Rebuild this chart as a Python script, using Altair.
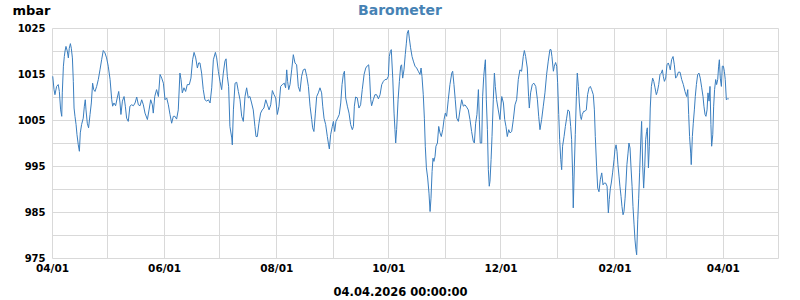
import altair as alt
import pandas as pd

# Days since 2025-04-01 and pressure (mbar)
days_spring = [0.4,1.1,1.6,2.5,3.4,4.0,4.7,5.3,5.6,6.2,
    6.7,7.1,7.6,8.3,8.9,9.4,10.0,10.5,11.1,11.6,
    12.0,12.5,13.1,13.6,14.3,14.9,15.4,16.1,17.0,17.6,
    18.1,18.5,19.2,19.9,20.7,21.4,22.1,22.7,23.4,24.3,
    25.2,26.1,27.0,27.9,28.8,29.7,30.6,31.6,32.5,33.0,
    33.7,34.6,35.5,36.3,37.0,37.5,38.3,39.2,39.9,40.6,
    41.5,42.4,43.3,44.3,45.2,46.1,47.0,47.9,48.8,49.7,
    50.6,51.9,52.8,53.7,54.6,55.1,55.9,56.9,57.9,58.8,
    59.7,60.6,61.5,62.4,63.3,64.2,65.1,66.0,66.9,67.8,
    68.7,69.6,70.2,70.9,71.8,72.7,73.6,74.7,75.6,76.5,
    77.3,78.2,79.1,79.8,80.5,81.4,82.3,83.2,84.2,85.1,
    86.0,86.9,87.8,88.9,89.6,90.5,91.4,92.3,93.2,94.1,
    94.7,95.4,96.1,96.8,97.8,98.1,98.7,99.6,100.5,101.4,
    102.3,103.2,104.1,105.0,105.9,106.8,107.7,108.6,109.5,110.4,
    111.0,111.7,112.6,113.5,114.4,115.3,116.3,117.2,118.1,119.0,
    119.9,120.8,121.7,122.6,123.5,124.4,125.3,126.4,127.1,127.7,
    128.2,128.8,129.5,130.4,131.3,132.2,133.1,134.0,134.9]
mbar_spring = [1014.5,1011.6,1010.5,1012.3,1012.7,1011.2,1007.2,1005.8,1010.9,1016.7,
    1018.8,1020.0,1021.0,1020.0,1018.5,1020.6,1021.6,1020.6,1018.5,1013.4,
    1007.6,1005.8,1004.0,1001.8,999.6,998.2,1002.2,1004.0,1005.4,1008.0,
    1009.4,1007.2,1004.3,1003.3,1006.2,1008.7,1013.0,1011.6,1011.2,1012.3,
    1013.8,1015.9,1018.1,1020.1,1019.6,1018.5,1016.7,1013.8,1009.4,1008.0,
    1008.7,1008.1,1009.8,1011.2,1008.7,1006.2,1009.1,1010.1,1008.0,1005.4,
    1004.7,1008.0,1008.3,1008.1,1008.7,1010.0,1008.3,1008.1,1009.4,1008.3,
    1006.5,1005.1,1007.2,1009.4,1008.3,1006.5,1010.1,1011.6,1010.1,1014.9,
    1014.1,1013.0,1009.4,1009.8,1008.3,1006.2,1004.3,1005.8,1005.8,1005.2,
    1007.2,1015.2,1013.8,1010.9,1012.0,1011.2,1012.7,1012.7,1014.1,1018.1,
    1019.7,1018.5,1016.3,1017.4,1017.4,1015.2,1011.6,1009.4,1009.1,1009.4,
    1008.7,1012.0,1018.1,1019.7,1018.5,1015.6,1013.4,1011.6,1015.2,1017.8,
    1018.3,1014.5,1012.3,1003.6,1001.1,999.6,1007.2,1013.0,1013.2,1011.2,
    1009.4,1005.8,1004.7,1010.1,1012.0,1009.8,1010.1,1008.7,1007.2,1003.6,
    1001.4,1001.4,1004.3,1006.5,1007.2,1007.6,1009.4,1008.3,1007.2,1008.3,
    1011.4,1010.5,1009.8,1006.2,1008.0,1012.3,1012.7,1013.0,1012.0,1015.9,
    1013.4,1011.6,1012.7,1015.9,1019.2,1017.4,1017.0,1012.3,1011.2]

days_autumn = [135.8,136.7,137.7,138.6,139.5,140.4,141.3,141.8,142.5,143.3,
    144.0,144.9,145.8,146.7,147.3,148.0,148.9,149.8,150.5,150.9,
    151.6,152.5,153.1,153.8,154.5,155.4,156.3,157.1,157.8,158.5,
    159.1,159.8,160.7,161.6,162.5,163.4,164.0,164.5,165.2,166.1,
    167.0,167.9,168.8,169.8,170.7,171.6,172.3,172.8,173.4,173.9,
    174.8,175.7,176.6,177.6,178.5,179.4,180.3,181.2,182.1,183.0,
    183.5,184.1,184.6,185.4,186.1,186.6,187.0,187.5,188.3,189.0,
    189.7,190.2,190.8,191.5,192.2,192.8,193.3,193.9,194.4,195.1,
    195.9,196.6,197.5,198.4,199.3,200.2,200.8,201.3,202.0,202.6,
    203.1,203.7,204.4,205.1,205.7,206.2,206.8,207.3,207.8,208.4,
    208.9,209.7,210.4,211.1,211.8,212.6,213.3,214.0,214.7,215.6,
    216.5,217.5,218.0,218.7,219.4,220.2,221.1,222.0,222.9,223.8,
    224.7,225.6,226.5,227.4,228.3,229.2,229.8,230.5,231.2,232.0,
    232.5,233.0,233.8,234.3,234.9,235.4,235.8,236.3,236.9,237.4,
    237.9,238.3,238.9,239.4,240.1,240.7,241.2,241.9,242.8,243.7,
    244.7,245.6,246.3,247.0,247.7,248.5,249.2,250.1,251.0,251.9,
    252.8,253.7,254.6,255.5,256.4,257.0,257.7,258.6,259.3,259.7,
    260.4,261.3,262.2,263.2,264.1,264.8,265.5,266.4,267.3,268.2,
    269.1,270.0,270.9]
mbar_autumn = [1014.5,1015.9,1016.1,1014.5,1012.3,1008.0,1005.1,1003.3,1002.5,1006.5,
    1010.1,1010.9,1012.0,1010.9,1008.0,1005.4,1004.0,1001.4,999.6,998.7,
    1001.8,1003.6,1004.7,1002.5,1004.7,1005.4,1006.2,1008.7,1012.7,1014.9,
    1015.6,1009.8,1008.0,1006.5,1004.0,1002.9,1003.6,1008.0,1010.0,1009.8,
    1007.6,1008.3,1011.6,1014.9,1016.3,1016.8,1017.0,1014.5,1009.4,1008.1,
    1009.4,1010.5,1010.5,1009.6,1010.5,1012.7,1013.4,1013.8,1013.8,1014.5,
    1018.8,1019.9,1020.3,1014.1,1006.5,1002.9,1000.0,1002.9,1009.4,1013.4,
    1016.7,1017.0,1014.1,1015.9,1019.2,1021.7,1023.9,1024.5,1022.8,1020.7,
    1018.8,1017.8,1016.7,1016.3,1015.6,1014.9,1016.3,1014.5,1010.5,1005.4,
    999.3,994.6,992.4,989.1,985.1,988.0,993.8,996.7,996.0,997.1,
    999.3,1000.0,1003.6,1002.2,1001.4,1002.9,1005.1,1006.5,1005.8,1009.4,
    1012.7,1015.2,1015.6,1012.7,1009.4,1005.4,1004.7,1007.2,1009.4,1008.0,
    1008.3,1007.8,1007.2,1005.1,1002.5,1000.4,1000.0,1004.3,1006.2,1011.6,
    1005.1,1000.0,1000.0,1010.1,1014.5,1016.7,1018.1,1009.4,1002.9,994.2,
    990.6,991.7,996.4,1001.4,1009.4,1015.2,1012.3,1009.4,1007.2,1005.1,
    1010.1,1008.7,1005.1,1003.6,1001.4,1002.9,1002.2,1002.5,1005.1,1008.3,
    1009.4,1013.8,1015.9,1015.6,1018.8,1020.1,1018.8,1016.3,1010.1,1007.6,
    1010.9,1012.7,1013.0,1012.3,1009.4,1005.8,1002.9,1005.1,1008.0,1010.9,
    1014.9,1017.8,1020.3]

days_winter = [271.5,272.0,272.8,273.3,274.0,274.6,275.1,275.7,276.2,276.8,
    277.3,277.8,278.6,279.3,280.0,280.7,281.5,282.2,282.7,283.3,
    283.6,284.2,284.7,285.3,285.8,286.4,286.9,287.5,288.0,288.5,
    289.3,290.0,290.7,291.4,292.2,292.9,293.6,294.5,295.1,295.6,
    296.3,296.9,297.6,298.3,299.1,299.8,300.5,301.2,302.0,302.7,
    303.2,303.8,304.3,305.0,305.8,306.3,306.9,307.4,307.9,308.5,
    309.0,309.6,310.1,310.7,311.2,311.8,312.3,312.8,313.4,313.9,
    314.5,315.0,315.6,316.1,316.7,317.2,317.7,318.1,318.7,319.2,
    319.7,320.3,320.8,321.4,321.9,322.5,323.0,323.5,323.9,324.5,
    325.0,325.5,326.1,326.8,327.4,328.1,328.8,329.4,330.1,330.8,
    331.5,332.1,332.6,333.2,333.9,334.6,335.3,335.9,336.4,337.1,
    337.9,338.6,339.3,340.0,340.8,341.7,342.6,343.5,344.4,345.3,
    345.9,346.4,346.9,347.5,347.8,348.4,348.9,349.5,350.0,350.6,
    351.3,352.0,352.7,353.5,354.2,354.7,355.3,355.8,356.4,356.9,
    357.5,358.0,358.5,358.9,359.5,360.0,360.5,361.1,361.6,362.2,
    362.7,363.1,363.6,364.2,364.7,365.3,365.8,366.3,366.9,367.4,
    368.2]
mbar_winter = [1020.3,1018.8,1015.6,1016.7,1017.5,1016.7,1013.1,1006.2,1000.8,996.4,
    994.2,999.3,1001.4,1003.6,1005.4,1007.2,1006.9,1003.6,1000.8,992.8,
    985.9,994.9,1001.8,1010.1,1015.2,1012.3,1008.7,1005.8,1005.1,1006.2,
    1006.9,1006.9,1007.2,1010.5,1012.0,1012.3,1011.6,1010.5,1007.2,1001.4,
    994.9,990.2,989.4,992.0,993.5,990.9,991.3,991.3,990.6,984.8,
    987.7,990.2,991.3,993.5,996.4,998.6,999.6,998.2,995.3,992.8,
    990.6,988.4,986.2,984.4,985.1,988.0,991.3,995.3,997.8,1000.0,
    998.9,994.9,990.6,986.2,982.2,978.9,976.8,975.7,983.3,988.0,
    993.5,1000.0,1004.7,994.9,990.2,994.9,1000.7,1002.5,1003.3,994.6,
    999.3,1007.6,1012.3,1014.1,1013.4,1012.0,1010.5,1011.2,1012.7,1014.9,
    1015.2,1015.9,1014.5,1013.4,1014.1,1017.0,1017.4,1016.7,1015.9,1018.1,
    1018.8,1017.0,1014.1,1014.5,1015.4,1015.4,1013.8,1012.7,1011.2,1010.1,
    1011.6,1006.2,1001.4,997.8,995.3,1001.4,1004.3,1007.2,1010.1,1012.7,
    1014.9,1015.2,1014.1,1012.0,1010.1,1008.0,1006.2,1005.8,1007.2,1010.9,
    1009.1,1012.3,1004.0,999.3,1001.8,1008.0,1011.6,1013.8,1012.7,1013.8,
    1016.7,1018.1,1014.1,1012.3,1016.7,1016.7,1015.6,1013.8,1009.4,1009.6,
    1009.6]

y_ticks = [975, 980, 985, 990, 995, 1000, 1005, 1010, 1015, 1020, 1025]

days = days_spring + days_autumn + days_winter
mbar = mbar_spring + mbar_autumn + mbar_winter

start = pd.Timestamp("2025-04-01")
df = pd.DataFrame({
    "time": [start + pd.Timedelta(days=d) for d in days],
    "mbar": mbar,
})

month_ticks = [alt.DateTime(year=2025 + (3 + i) // 12, month=(3 + i) % 12 + 1, date=1)
               for i in range(14)]

FONT = "DejaVu Sans"
GRID = "#d9d9d9"

chart = alt.Chart(df).mark_line(color="#3a7ebf", strokeWidth=1).encode(
    x=alt.X(
        "time:T",
        scale=alt.Scale(domain=[alt.DateTime(year=2025, month=4, date=1),
                                alt.DateTime(year=2026, month=5, date=1)]),
        axis=alt.Axis(
            values=month_ticks, format="%m/%d",
            labelExpr="month(datum.value) % 2 == 1 ? datum.label : ''",
            grid=True, gridColor=GRID, gridWidth=1, ticks=False, domain=False,
            labelFlush=False, labelOverlap=False, labelPadding=5,
            labelFont=FONT, labelFontSize=10.5, labelFontWeight="bold", labelColor="black",
            title="04.04.2026 00:00:00", titleX=348, titleY=34,
            titleAlign="center", titleBaseline="middle",
            titleFont=FONT, titleFontSize=11.5, titleFontWeight="bold", titleColor="black",
        ),
    ),
    y=alt.Y(
        "mbar:Q",
        scale=alt.Scale(domain=[975, 1025], nice=False, zero=False),
        axis=alt.Axis(
            values=y_ticks, format="d",
            labelExpr="datum.value % 10 == 5 ? datum.label : ''",
            grid=True, gridColor=GRID, gridWidth=1, ticks=False, domain=False,
            labelFlush=False, labelOverlap=False, labelPadding=7,
            labelFont=FONT, labelFontSize=10, labelFontWeight="bold", labelColor="black",
            title="mbar", titleAngle=0, titleX=-40, titleY=-18,
            titleAlign="left", titleBaseline="middle",
            titleFont=FONT, titleFontSize=13, titleFontWeight="bold", titleColor="black",
        ),
    ),
).properties(
    width=726,
    height=230,
    padding={"left": 52, "top": 28, "right": 22, "bottom": 42},
    autosize=alt.AutoSizeParams(type="none"),
    title=alt.TitleParams(
        "Barometer", font=FONT, fontSize=14, fontWeight="bold", color="#4682b4",
        anchor="middle", dx=-15, dy=18,
    ),
).configure_view(stroke=None)

chart.save("out.html", embed_options={"renderer": "svg", "actions": False})
